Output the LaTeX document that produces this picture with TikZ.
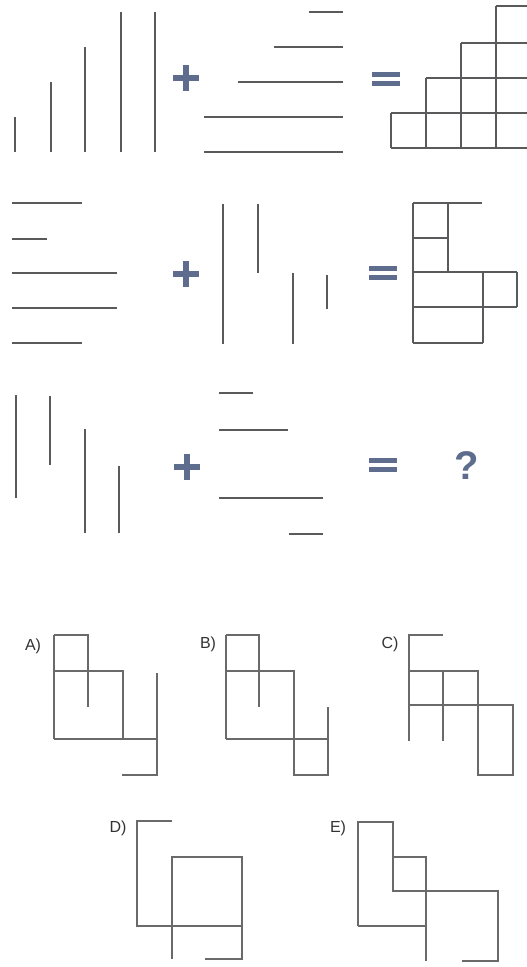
\documentclass[tikz,border=0pt]{standalone}
\usepackage{fontspec}
\setmainfont{Liberation Sans}
\begin{document}
\begin{tikzpicture}[x=1pt,y=-1pt,
  seg/.style={draw=linegrey,line width=2.6pt},
  opt/.style={draw=optgrey,line width=2.4pt},
  sym/.style={fill=symblue,draw=none},
  lbl/.style={font=\fontsize{16}{16}\selectfont,text=black!80,inner sep=0pt},
  qm/.style={font=\fontsize{40}{40}\selectfont\bfseries,text=symblue,inner sep=0pt}]
\definecolor{linegrey}{HTML}{5A5A5C}
\definecolor{optgrey}{HTML}{6A6A6A}
\definecolor{symblue}{HTML}{5E6D8E}
\useasboundingbox[fill=white] (0,0) rectangle (527,967);
\newcommand{\plussign}[2]{\fill[symblue] (#1-13,#2-3) rectangle (#1+13,#2+3); \fill[symblue] (#1-3,#2-13) rectangle (#1+3,#2+13);}
\newcommand{\eqsign}[2]{\fill[symblue] (#1-14,#2-7) rectangle (#1+14,#2-2); \fill[symblue] (#1-14,#2+2) rectangle (#1+14,#2+7);}
% ---------- Row 1 ----------
\draw[seg] (15,117) -- (15,152);
\draw[seg] (51,82) -- (51,152);
\draw[seg] (85,47) -- (85,152);
\draw[seg] (121,12) -- (121,152);
\draw[seg] (155,12) -- (155,152);
\plussign{186}{78}
\draw[seg] (309,12) -- (343,12);
\draw[seg] (274,47) -- (343,47);
\draw[seg] (238,82) -- (343,82);
\draw[seg] (204,117) -- (343,117);
\draw[seg] (204,152) -- (343,152);
\eqsign{386}{79}
\draw[seg] (496,6) -- (535,6);
\draw[seg] (461,43) -- (535,43);
\draw[seg] (426,78) -- (535,78);
\draw[seg] (391,113) -- (535,113);
\draw[seg] (391,148) -- (535,148);
\draw[seg] (391,113) -- (391,148);
\draw[seg] (426,78) -- (426,148);
\draw[seg] (461,43) -- (461,148);
\draw[seg] (496,6) -- (496,148);
% ---------- Row 2 ----------
\draw[seg] (12,203) -- (82,203);
\draw[seg] (12,239) -- (47,239);
\draw[seg] (12,273) -- (117,273);
\draw[seg] (12,308) -- (117,308);
\draw[seg] (12,343) -- (82,343);
\plussign{186}{274}
\draw[seg] (223,204) -- (223,344);
\draw[seg] (258,204) -- (258,273);
\draw[seg] (293,273) -- (293,344);
\draw[seg] (327,275) -- (327,309);
\eqsign{383}{273}
\draw[seg] (413,203) -- (482,203);
\draw[seg] (413,203) -- (413,343);
\draw[seg] (448,203) -- (448,272);
\draw[seg] (413,238) -- (448,238);
\draw[seg] (413,272) -- (517,272);
\draw[seg] (517,272) -- (517,307);
\draw[seg] (413,307) -- (517,307);
\draw[seg] (483,272) -- (483,343);
\draw[seg] (413,343) -- (483,343);
% ---------- Row 3 ----------
\draw[seg] (16,395) -- (16,498);
\draw[seg] (50,396) -- (50,465);
\draw[seg] (85,429) -- (85,533);
\draw[seg] (119,466) -- (119,533);
\plussign{187}{467}
\draw[seg] (219,393) -- (253,393);
\draw[seg] (219,430) -- (288,430);
\draw[seg] (219,498) -- (323,498);
\draw[seg] (289,534) -- (323,534);
\eqsign{383}{465}
\node[qm] (q) at (467,466) {?};
% ---------- Option A ----------
\node[lbl] (la) at (33,646) {A)};
\draw[opt] (54,635) -- (54,739);
\draw[opt] (54,635) -- (88,635) -- (88,707);
\draw[opt] (54,671) -- (123,671) -- (123,739);
\draw[opt] (54,739) -- (157,739);
\draw[opt] (157,673) -- (157,775) -- (122,775);
% ---------- Option B ----------
\node[lbl] (lb) at (208,644) {B)};
\draw[opt] (226,635) -- (226,739);
\draw[opt] (226,635) -- (259,635) -- (259,707);
\draw[opt] (226,671) -- (294,671) -- (294,775) -- (328,775) -- (328,707);
\draw[opt] (226,739) -- (328,739);
% ---------- Option C ----------
\node[lbl] (lc) at (390,644) {C)};
\draw[opt] (443,635) -- (409,635) -- (409,741);
\draw[opt] (409,671) -- (478,671) -- (478,775) -- (513,775) -- (513,705) -- (409,705);
\draw[opt] (443,671) -- (443,741);
% ---------- Option D ----------
\node[lbl] (ld) at (118,828) {D)};
\draw[opt] (172,821) -- (137,821) -- (137,926) -- (242,926);
\draw[opt] (172,959) -- (172,857) -- (242,857) -- (242,959) -- (205,959);
% ---------- Option E ----------
\node[lbl] (le) at (338,828) {E)};
\draw[opt] (358,926) -- (358,822) -- (393,822) -- (393,891) -- (498,891) -- (498,961) -- (462,961);
\draw[opt] (393,857) -- (426,857) -- (426,961);
\draw[opt] (358,926) -- (426,926);
\end{tikzpicture}
\end{document}
